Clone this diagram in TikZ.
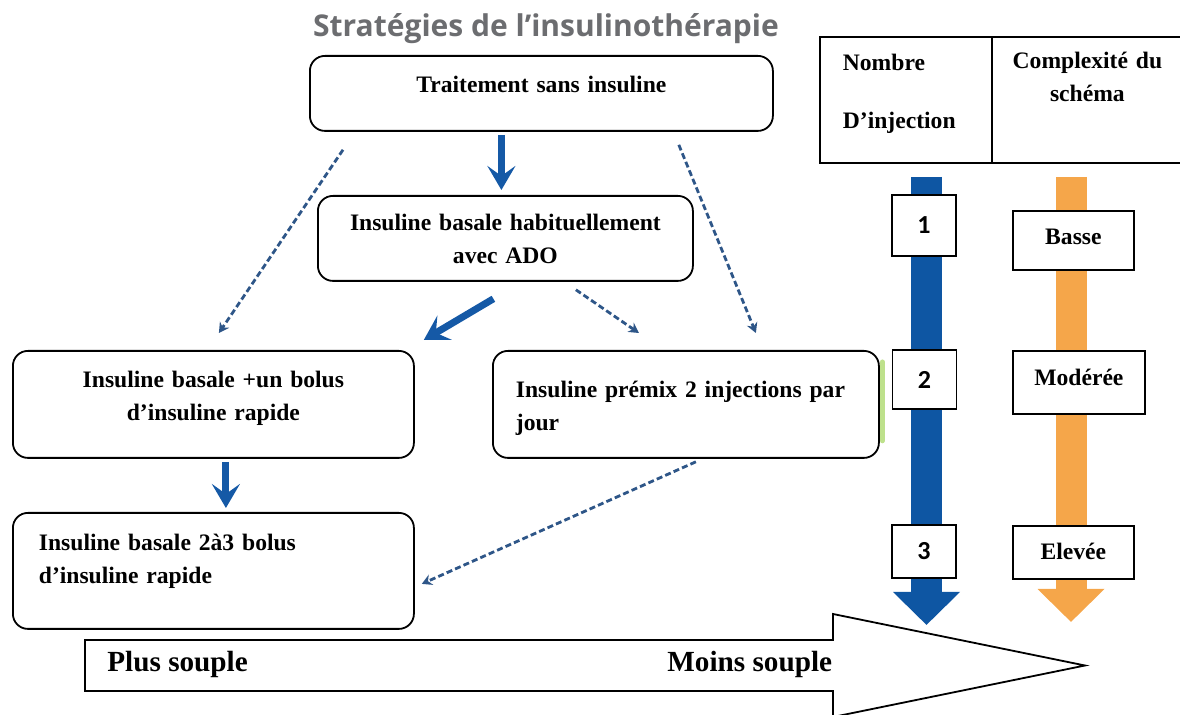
\documentclass[tikz,border=0pt]{standalone}
\usepackage{fontspec}
\setmainfont{Liberation Serif}
\newfontfamily\titlefont{Open Sans}
\newfontfamily\numfont{Carlito}
\usetikzlibrary{arrows.meta,calc}
\definecolor{flowblue}{RGB}{21,89,166}
\definecolor{dashblue}{RGB}{46,86,136}
\definecolor{injblue}{RGB}{14,86,163}
\definecolor{cplxorange}{RGB}{245,166,74}
\definecolor{titlegray}{RGB}{108,109,112}
\definecolor{glowgreen}{RGB}{190,225,140}

\begin{document}
\begin{tikzpicture}[x=0.5pt, y=-0.5pt,
  stage/.style={draw, rounded corners=7.5pt, line width=0.9pt, inner ysep=0pt, anchor=north west, font=\bfseries\fontsize{11.8pt}{16.5pt}\selectfont},
  cell/.style={draw, line width=0.9pt, inner ysep=0pt, inner xsep=0pt, anchor=north west, font=\bfseries\fontsize{11.8pt}{16.5pt}\selectfont},
  num/.style={draw, fill=white, line width=0.9pt, inner sep=0pt, minimum width=32pt, font=\numfont\bfseries\fontsize{13pt}{15pt}\selectfont},
  level/.style={draw, fill=white, line width=0.9pt, inner sep=0pt, anchor=north west, align=center, font=\bfseries\fontsize{11.8pt}{14pt}\selectfont},
  arr/.style={flowblue, line width=3.5pt, -{Stealth[length=12pt, width=14pt, inset=5pt]}},
  darr/.style={dashblue, line width=1.4pt, dash pattern=on 3pt off 1.6pt, -{Stealth[length=5pt, width=5.5pt]}},
  bigarr/.style={line width=15.5pt, -{Triangle[length=16.5pt, width=32.5pt]}},
  lbl/.style={anchor=base west, inner sep=0pt, font=\bfseries\fontsize{14.6pt}{17pt}\selectfont},
]
  \useasboundingbox (0,0) rectangle (1180,715);

  \node[anchor=base, font=\titlefont\bfseries\fontsize{15pt}{17pt}\selectfont, text=titlegray] (title) at (546,37) {Stratégies de l’insulinothérapie};

  \node[stage, text width=231.5pt, inner xsep=0pt, text height=18.5pt, text depth=19pt, align=center] (none) at (309,55) {Traitement sans insuline};
  \node[stage, text width=187.5pt, inner xsep=0pt, text height=17.5pt, text depth=25pt, align=center] (basal) at (317,195) {Insuline basale habituellement\\avec ADO};
  \node[stage, text width=200.5pt, inner xsep=0pt, text height=18.5pt, text depth=35pt, align=center] (bolus) at (12,350) {Insuline basale +un bolus\\d’insuline rapide};
  \node[stage, text width=174.5pt, inner xsep=13pt, text height=19pt, text depth=39pt, align=left] (basbolus) at (12,512) {Insuline basale 2à3 bolus\\d’insuline rapide};
  \draw[glowgreen, line width=2.5pt, line cap=round] ($(bolus.north east)+(467.5,12)$) -- ($(bolus.south east)+(467.5,-18)$);
  \node[stage, text width=170pt, inner xsep=11.5pt, text height=23.5pt, text depth=30pt, align=left] (premix) at (492,350) {Insuline prémix 2 injections par\\jour};

  \draw[arr] ($(basal.north |- none.south)+(-4,3)$) -- ($(basal.north)+(-4,-5)$);
  \draw[arr] ($(basal.south)+(-12,17)$) -- ($(bolus.north east)+(9,-10)$);
  \draw[arr] ($(bolus.south)+(12.5,3)$) -- ($(basbolus.north)+(12.5,-4)$);
  \draw[darr] ($(none.south west)+(34,18)$) -- ($(bolus.north)+(5.5,-17)$);
  \draw[darr] ($(none.south east)+(-95,13)$) -- ($(premix.north)+(70,-17)$);
  \draw[darr] ($(basal.south)+(70.5,8)$) -- ($(premix.north)+(-47,-17)$);
  \draw[darr] ($(premix.south)+(10,3)$) -- ($(basbolus.east)+(7,13)$);

  \node[cell, text width=63pt, inner xsep=11.5pt, text height=17pt, text depth=46pt, align=left] (count) at (819,36) {Nombre\\[12.5pt]D’injection};
  \node[cell, text width=95.5pt, text height=16pt, text depth=47pt, align=center] (cplx) at (991,36) {Complexité du\\schéma};

  \draw[bigarr, injblue] (926.5,177) -- (926.5,625);
  \draw[bigarr, cplxorange] (1071,177) -- (1071,622);

  \node[num, minimum height=30.5pt] (one) at (924,225.5) {1};
  \node[num, minimum height=29.5pt] (two) at (924.5,379.5) {2};
  \node[num, minimum height=26.5pt] (three) at (924,551.5) {3};
  \node[level, text width=60.5pt, text height=17pt, text depth=12.5pt] (low) at (1012,210) {Basse};
  \node[level, text width=66pt, text height=17.5pt, text depth=14pt] (mid) at (1012,350) {Modérée};
  \node[level, text width=60.5pt, text height=17pt, text depth=9.5pt] (high) at (1012,525) {Elevée};

  \draw[line width=0.9pt, fill=white] (85,640) -- (833,640) -- (833,614) -- (1085,665.5) -- (833,717) -- (833,691) -- (85,691) -- cycle;
  \node[lbl] (flex) at (107,672) {Plus souple};
  \node[lbl] (rigid) at (667,672) {Moins souple};
\end{tikzpicture}
\end{document}
